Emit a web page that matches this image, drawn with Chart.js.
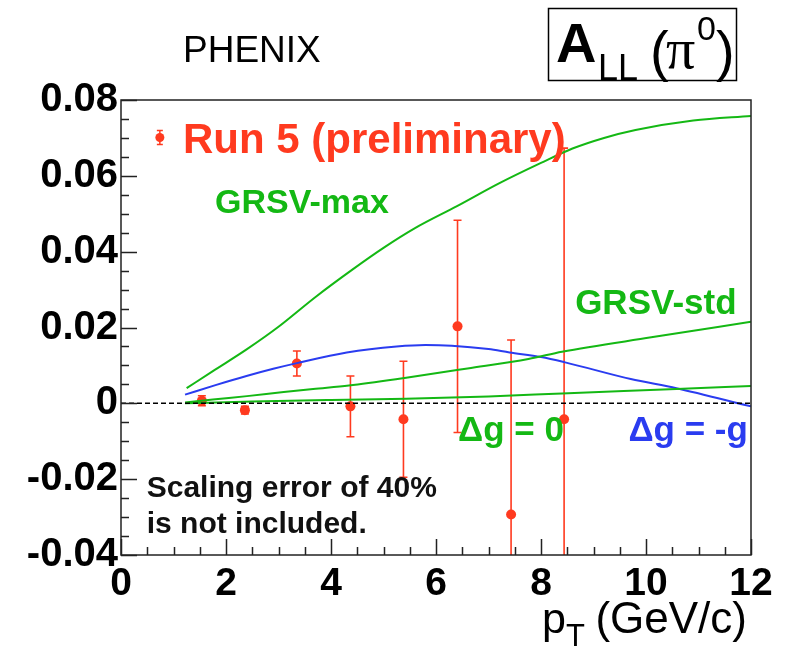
<!DOCTYPE html>
<html><head><meta charset="utf-8">
<script src="https://cdn.jsdelivr.net/npm/chart.js@4.4.0/dist/chart.umd.min.js"></script>
<style>html,body{margin:0;padding:0;background:#fff;}</style>
</head><body>
<canvas id="c" width="792" height="652" style="width:792px;height:652px;display:block"></canvas>
<script>
// ---- data ----
const xTicks = [0, 2, 4, 6, 8, 10, 12];
const yTicks = [-0.04, -0.02, 0, 0.02, 0.04, 0.06, 0.08];

const run5X   = [1.54, 2.36, 3.35, 4.37, 5.38, 6.41, 7.43, 8.44];
const run5Y   = [0.0007, -0.0018, 0.0105, -0.0008, -0.0042, 0.0203, -0.0293, -0.0042];
const run5Err = [0.0013, 0.0010, 0.0033, 0.0080, 0.0153, 0.0280, 0.0460, 0.0715];

const maxX = [1.25, 1.75, 2.4, 3.0, 3.7, 4.4, 5.0, 5.6, 6.4, 7.2, 8.0, 8.6, 9.2, 9.8, 10.9, 12.0];
const maxY = [0.0040, 0.0085, 0.0143, 0.0202, 0.0280, 0.0352, 0.0410, 0.0462, 0.0520, 0.0580, 0.0634, 0.0672, 0.0700, 0.0721, 0.0746, 0.0758];

const stdX = [1.22, 1.75, 2.4, 3.1, 3.66, 4.34, 5.4, 6.6, 7.76, 8.4, 10.1, 12.0];
const stdY = [0.0002, 0.0010, 0.0019, 0.0030, 0.0038, 0.0047, 0.0067, 0.0092, 0.0117, 0.0136, 0.0174, 0.0215];

const zeroX = [1.22, 2.5, 4.0, 5.43, 7.0, 8.4, 10.58, 12.0];
const zeroY = [0.0000, 0.0005, 0.0009, 0.0012, 0.0018, 0.0026, 0.0038, 0.0046];

const negX = [1.22, 1.8, 2.39, 2.9, 3.35, 4.3, 5.25, 5.8, 6.3, 7.0, 7.4, 8.0, 8.46, 9.71, 10.58, 12.0];
const negY = [0.0023, 0.0048, 0.0072, 0.0091, 0.0106, 0.0134, 0.0150, 0.0154, 0.0152, 0.0143, 0.0134, 0.0122, 0.0108, 0.0064, 0.0040, -0.0008];

const RED = '#ff3a1f', GREEN = '#14b814', BLUE = '#2a3cf0';
const toXY = (xs, ys) => xs.map((x, i) => ({x, y: ys[i]}));
const SANS = '"Liberation Sans", Arial, sans-serif';

const overlay = {
  id: 'overlay',
  beforeDatasetsDraw(chart) {
    const {ctx, chartArea: a, scales: {x, y}} = chart;
    ctx.save();
    ctx.beginPath(); ctx.rect(a.left, a.top, a.right - a.left, a.bottom - a.top); ctx.clip();
    ctx.strokeStyle = RED; ctx.lineWidth = 1.6;
    run5X.forEach((xv, i) => {
      const px = x.getPixelForValue(xv);
      const y1 = y.getPixelForValue(run5Y[i] + run5Err[i]);
      const y2 = y.getPixelForValue(run5Y[i] - run5Err[i]);
      ctx.beginPath(); ctx.moveTo(px, y1); ctx.lineTo(px, y2);
      ctx.moveTo(px - 4, y1); ctx.lineTo(px + 4, y1);
      ctx.moveTo(px - 4, y2); ctx.lineTo(px + 4, y2);
      ctx.stroke();
    });
    ctx.restore();
  },
  afterDraw(chart) {
    const {ctx, chartArea: a, scales: {x, y}} = chart;
    ctx.save();
    // frame
    ctx.strokeStyle = '#222'; ctx.lineWidth = 1.5;
    ctx.strokeRect(a.left, a.top, a.right - a.left, a.bottom - a.top);
    // ticks
    ctx.beginPath();
    for (let i = 0; i <= 24; i++) {
      const v = -0.04 + i * 0.005;
      const len = (i % 4 === 0) ? 16 : 8;
      const py = Math.round(y.getPixelForValue(v)) + 0.5;
      ctx.moveTo(a.left, py); ctx.lineTo(a.left + len, py);
    }
    for (let i = 0; i <= 24; i++) {
      const v = i * 0.5;
      const len = (i % 4 === 0) ? 16 : 8;
      const px = Math.round(x.getPixelForValue(v)) + 0.5;
      ctx.moveTo(px, a.bottom); ctx.lineTo(px, a.bottom - len);
    }
    ctx.stroke();

    // legend marker
    const lx = x.getPixelForValue(0.74), ly = y.getPixelForValue(0.0701);
    ctx.strokeStyle = RED; ctx.fillStyle = RED; ctx.lineWidth = 1.5;
    ctx.beginPath();
    ctx.moveTo(lx, ly - 7); ctx.lineTo(lx, ly + 7);
    ctx.moveTo(lx - 3, ly - 7); ctx.lineTo(lx + 3, ly - 7);
    ctx.moveTo(lx - 3, ly + 7); ctx.lineTo(lx + 3, ly + 7);
    ctx.stroke();
    ctx.beginPath(); ctx.arc(lx, ly, 4.5, 0, Math.PI * 2); ctx.fill();

    ctx.textBaseline = 'alphabetic';
    ctx.textAlign = 'left';
    ctx.font = 'bold 42px ' + SANS;
    ctx.fillText('Run 5 (preliminary)', x.getPixelForValue(1.18), y.getPixelForValue(0.0661));

    ctx.fillStyle = GREEN;
    ctx.font = 'bold 34px ' + SANS;
    ctx.fillText('GRSV-max', x.getPixelForValue(1.79), y.getPixelForValue(0.0501));
    ctx.font = 'bold 35px ' + SANS;
    ctx.fillText('GRSV-std', x.getPixelForValue(8.65), y.getPixelForValue(0.0235));
    ctx.fillText('\u0394g = 0', x.getPixelForValue(6.42), y.getPixelForValue(-0.0100));
    ctx.fillStyle = BLUE;
    ctx.textAlign = 'right';
    ctx.fillText('\u0394g = -g', x.getPixelForValue(11.94), y.getPixelForValue(-0.0100));

    ctx.fillStyle = '#111';
    ctx.textAlign = 'left';
    ctx.font = 'bold 30px ' + SANS;
    ctx.fillText('Scaling error of 40%', x.getPixelForValue(0.49), y.getPixelForValue(-0.0248));
    ctx.fillText('is not included.', x.getPixelForValue(0.49), y.getPixelForValue(-0.0343));

    // axis title
    ctx.fillStyle = '#000';
    ctx.textAlign = 'left';
    ctx.font = '43px ' + SANS;
    ctx.fillText('p', 542, 633);
    ctx.font = '31px ' + SANS;
    ctx.fillText('T', 566, 646);
    ctx.font = '44px ' + SANS;
    ctx.textAlign = 'right';
    ctx.fillText('(GeV/c)', 747, 633);

    // header
    ctx.textAlign = 'left';
    ctx.font = '37px ' + SANS;
    ctx.fillText('PHENIX', 183, 62);

    ctx.lineWidth = 1.5; ctx.strokeStyle = '#000';
    ctx.strokeRect(548.5, 8.5, 188, 72);
    ctx.font = 'bold 56px ' + SANS;
    ctx.fillText('A', 556, 62);
    ctx.font = '36px ' + SANS;
    ctx.fillText('LL', 598, 80);
    ctx.font = '56px ' + SANS;
    ctx.fillText('(', 650, 70);
    ctx.font = '58px "Liberation Serif", serif';
    ctx.fillText('\u03c0', 666, 68);
    ctx.font = '34px ' + SANS;
    ctx.fillText('0', 697, 40);
    ctx.font = '56px ' + SANS;
    ctx.fillText(')', 716, 70);
    ctx.restore();
  }
};

new Chart(document.getElementById('c'), {
  data: {
    datasets: [
      {type: 'line', data: [{x: 0, y: 0}, {x: 12, y: 0}], borderColor: '#000', borderWidth: 1.5, borderDash: [5, 3], pointRadius: 0},
      {type: 'line', data: toXY(maxX, maxY), borderColor: GREEN, borderWidth: 2, pointRadius: 0, cubicInterpolationMode: 'monotone'},
      {type: 'line', data: toXY(stdX, stdY), borderColor: GREEN, borderWidth: 2, pointRadius: 0, cubicInterpolationMode: 'monotone'},
      {type: 'line', data: toXY(zeroX, zeroY), borderColor: GREEN, borderWidth: 2, pointRadius: 0, cubicInterpolationMode: 'monotone'},
      {type: 'line', data: toXY(negX, negY), borderColor: BLUE, borderWidth: 2, pointRadius: 0, cubicInterpolationMode: 'monotone'},
      {type: 'scatter', data: toXY(run5X, run5Y), backgroundColor: RED, borderWidth: 0, pointRadius: 5}
    ]
  },
  options: {
    responsive: false, animation: false, devicePixelRatio: 1,
    layout: {padding: {top: 100, right: 41, left: 0, bottom: 0}},
    plugins: {legend: {display: false}, tooltip: {enabled: false}},
    scales: {
      x: {
        type: 'linear', min: 0, max: 12,
        afterFit: s => { s.height = 97; },
        afterBuildTicks: s => { s.ticks = xTicks.map(v => ({value: v})); },
        grid: {display: false, drawTicks: false}, border: {display: false},
        ticks: {autoSkip: false, maxRotation: 0, padding: 6, color: '#000',
          font: {family: SANS, size: 39, weight: 'bold'},
          callback: v => String(v)}
      },
      y: {
        type: 'linear', min: -0.04, max: 0.08,
        afterFit: s => { s.width = 121; },
        afterBuildTicks: s => { s.ticks = yTicks.map(v => ({value: v})); },
        grid: {display: false, drawTicks: false}, border: {display: false},
        ticks: {autoSkip: false, padding: 3, color: '#000',
          font: {family: SANS, size: 40, weight: 'bold'},
          callback: v => Math.abs(v) < 1e-9 ? '0' : Number(v).toFixed(2)}
      }
    }
  },
  plugins: [overlay]
});
</script>
</body></html>
